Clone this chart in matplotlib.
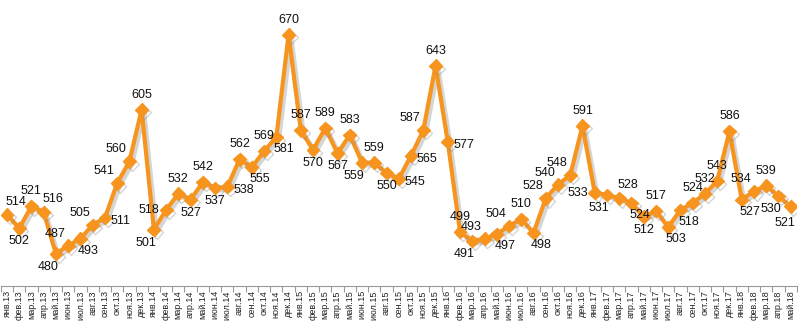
import matplotlib
matplotlib.use('Agg')
import matplotlib.pyplot as plt
import matplotlib.patheffects as pe
import numpy as np

plt.rcParams['font.family'] = ['Liberation Sans', 'DejaVu Sans']

# month labels
months = ['янв', 'фев', 'мар', 'апр', 'май', 'июн',
          'июл', 'авг', 'сен', 'окт', 'ноя', 'дек']
years = ['13', '14', '15', '16', '17', '18']
labels = [m + '.' + y for y in years for m in months][:65]

values_2013 = [514, 502, 521, 516, 480, 487, 493, 505, 511, 541, 560, 605]
values_2014 = [501, 518, 532, 527, 542, 537, 538, 562, 555, 569, 581, 670]
values_2015 = [587, 570, 589, 567, 583, 559, 559, 550, 545, 565, 587, 643]
values_2016 = [577, 499, 491, 493, 497, 504, 510, 498, 528, 540, 548, 591]
values_2017 = [533, 531, 528, 524, 512, 517, 503, 518, 524, 532, 543, 586]
values_2018 = [527, 534, 539, 530, 521]

values = values_2013 + values_2014 + values_2015 + values_2016 + values_2017 + values_2018

# where each value label sits around its point
label_pos = ['ar', 'b', 'a', 'ar', 'bl', 'al', 'br', 'al', 'r', 'al', 'al', 'a',
             'bl', 'l', 'a', 'b', 'a', 'b', 'r', 'a', 'br', 'a', 'br', 'a',
             'a', 'b', 'a', 'b', 'a', 'bl', 'a', 'b', 'r', 'r', 'al', 'a',
             'r', 'a', 'bl', 'al', 'br', 'al', 'a', 'br', 'al', 'al', 'al', 'a',
             'l', 'bl', 'ar', 'br', 'b', 'a', 'br', 'br', 'a', 'a', 'a', 'a',
             'br', 'al', 'a', 'bl', 'bl2']
offsets = {'a': (0, 15), 'b': (0, -13), 'l': (-17, 0), 'r': (16, -3),
           'al': (-13, 12), 'ar': (9, 13), 'bl': (-8, -13), 'br': (8, -12),
           'bl2': (-6, -17)}

orange = '#F7941E'

fig = plt.figure(figsize=(8.0, 3.28), dpi=100)
ax = fig.add_axes([0.001, 0.128, 0.995, 0.872])

x = np.arange(len(values))
ax.plot(x, values, color=orange, lw=3.0, marker='D', markersize=6.5,
        markeredgecolor=orange, solid_joinstyle='miter',
        path_effects=[pe.SimpleLineShadow(offset=(2, -2), shadow_color='#888888', alpha=0.35),
                      pe.Normal()])

for i, v in enumerate(values):
    dx, dy = offsets[label_pos[i]]
    ax.annotate(str(v), (i, v), xytext=(dx, dy), textcoords='offset pixels',
                ha='center', va='center', fontsize=9, color='#111111')

ax.set_xlim(-0.5, len(values) - 0.5)
ax.set_ylim(452, 700)

ax.set_xticks(x)
ax.set_xticklabels(labels, rotation=90, fontsize=6.5, color='#222222')
ax.set_xticks(np.arange(-0.5, len(values), 1.0), minor=True)
ax.tick_params(axis='x', which='major', length=0, pad=3)
ax.tick_params(axis='x', which='minor', length=4, color='#999999', width=0.8)
ax.set_yticks([])

for s in ['top', 'left', 'right']:
    ax.spines[s].set_visible(False)
ax.spines['bottom'].set_color('#999999')
ax.spines['bottom'].set_linewidth(0.8)

fig.savefig('out.png', dpi=100)
